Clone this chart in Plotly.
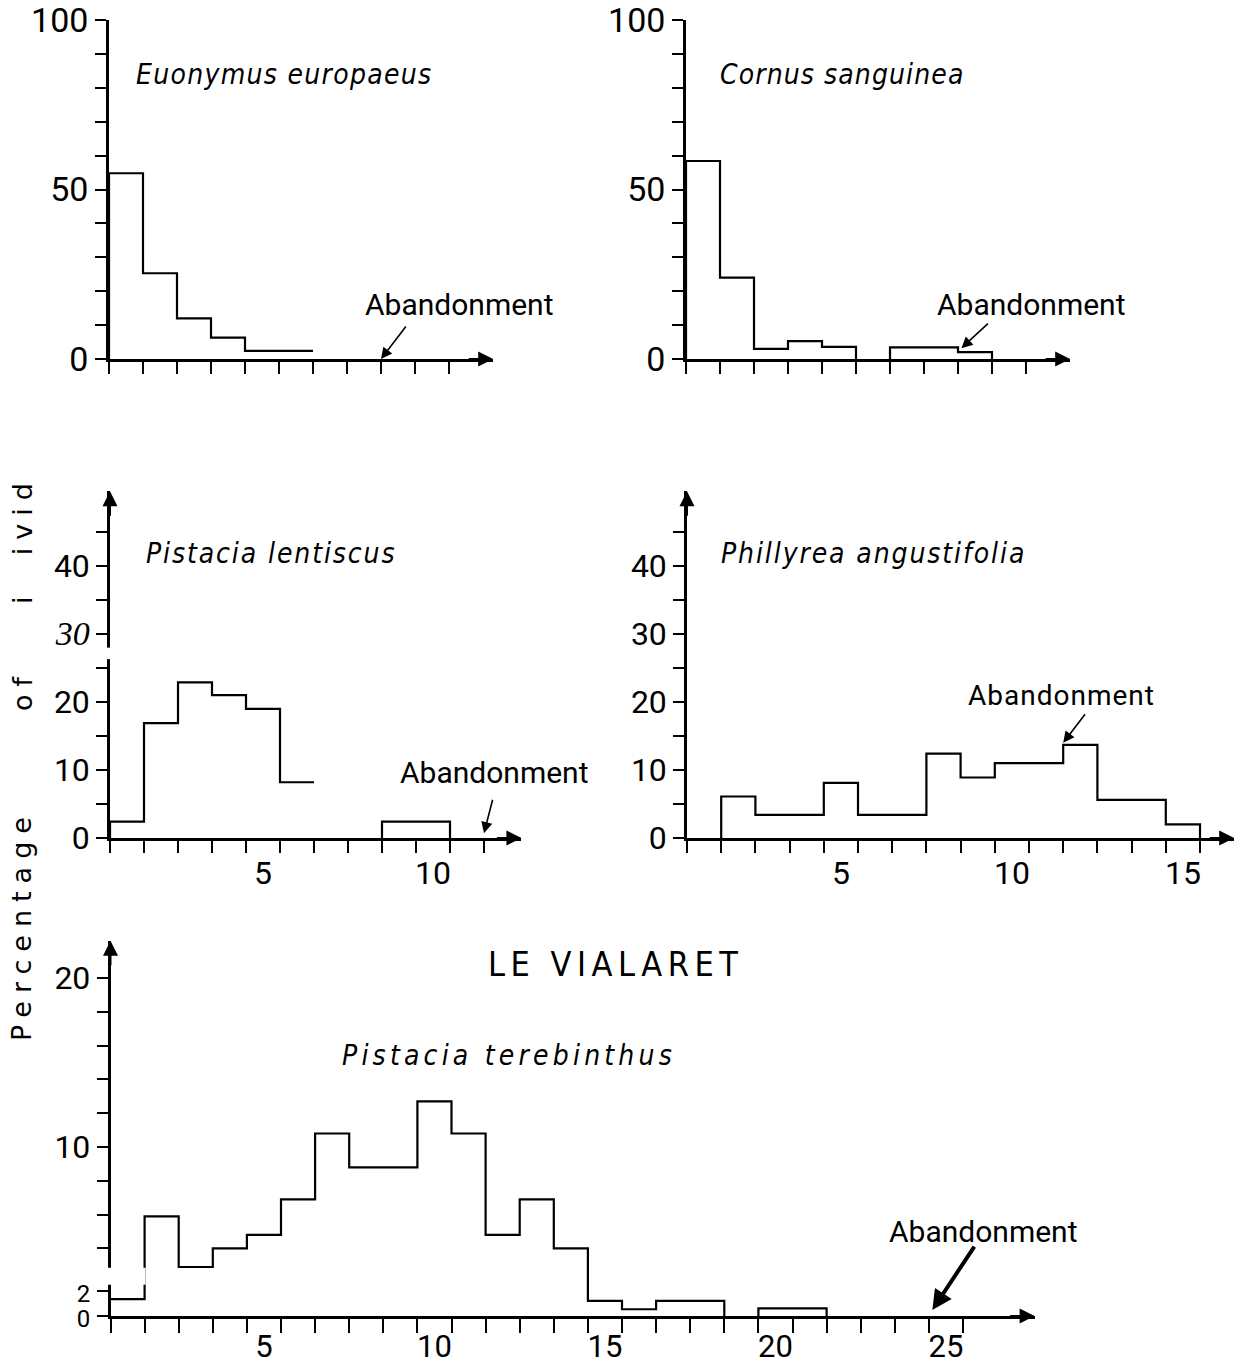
import plotly.graph_objects as go

W, H = 1240, 1364

# ---------------- data (percent of individuals per age class) ----------------
euo_edges = [0, 1, 2, 3, 4, 5, 6]
euo_vals = [54.8, 25.3, 12.0, 6.3, 2.4, 2.4]

cor_edges_a = [0, 1, 2, 3, 4, 5]
cor_vals_a = [58.4, 24.0, 3.0, 5.3, 3.6]
cor_edges_b = [6, 7, 8, 9]
cor_vals_b = [3.4, 3.4, 2.0]

len_edges_a = [0, 1, 2, 3, 4, 5, 6]
len_vals_a = [2.4, 16.9, 22.9, 21.0, 19.0, 8.2]
len_edges_b = [8, 9, 10]
len_vals_b = [2.4, 2.4]

phi_edges = [1, 2, 3, 4, 5, 6, 7, 8, 9, 10, 11, 12, 13, 14, 15]
phi_vals = [6.1, 3.4, 3.4, 8.1, 3.4, 3.4, 12.4, 8.9, 11.0, 11.0, 13.7, 5.6, 5.6, 2.0]

ter_edges_a = list(range(0, 19))
ter_vals_a = [1.0, 5.9, 2.9, 4.0, 4.8, 6.9, 10.8, 8.8, 8.8, 12.7, 10.8, 4.8, 6.9, 4.0, 0.9, 0.4, 0.9, 0.9]
ter_edges_b = [19, 20, 21]
ter_vals_b = [0.45, 0.45]

# abandonment age class (arrow position) and value at arrow tip
aband = {1: (8, 0), 2: (8.1, 3.2), 3: (11, 0.7), 4: (11, 14.0), 5: (24.1, 0.35)}

titles = {1: "Euonymus europaeus", 2: "Cornus sanguinea", 3: "Pistacia lentiscus",
          4: "Phillyrea angustifolia", 5: "Pistacia terebinthus"}

# ---------------- geometry (pixel layout of the original figure) ----------------
# x0px, px per class, x max, y0px (value 0), px per unit, y max
geo = {
    1: (109, 34.0, 11.3, 359, 3.39, 100),
    2: (686, 34.0, 11.3, 359, 3.39, 100),
    3: (110, 34.0, 12.1, 838, 6.8, 51),
    4: (687, 34.2, 16.0, 838, 6.8, 51),
    5: (110.5, 34.1, 27.1, 1316, 16.9, 22.2),
}

TICKF = "Roboto, Liberation Sans, sans-serif"
TITLEF = "DejaVu Sans Condensed, DejaVu Sans, sans-serif"
LW = 2.2


def step(edges, vals, start_zero=True, end_zero=True):
    xs, ys = [], []
    if start_zero:
        xs.append(edges[0]); ys.append(0)
    for i, v in enumerate(vals):
        xs += [edges[i], edges[i + 1]]
        ys += [v, v]
    if end_zero:
        xs.append(edges[-1]); ys.append(0)
    return xs, ys


def spaced(txt, px):
    return "<span style='letter-spacing:%spx'>%s</span>" % (px, txt)


fig = go.Figure()


def add(panel, edges, vals, s=True, e=True):
    xs, ys = step(edges, vals, s, e)
    sfx = "" if panel == 1 else str(panel)
    fig.add_trace(go.Scatter(x=xs, y=ys, mode="lines", line=dict(color="black", width=LW),
                             xaxis="x" + sfx, yaxis="y" + sfx, showlegend=False, hoverinfo="skip"))


add(1, euo_edges, euo_vals, True, False)
add(2, cor_edges_a, cor_vals_a)
add(2, cor_edges_b, cor_vals_b)
add(3, len_edges_a, len_vals_a, True, False)
add(3, len_edges_b, len_vals_b)
add(4, phi_edges, phi_vals)
add(5, ter_edges_a, ter_vals_a, False, True)
add(5, ter_edges_b, ter_vals_b)

layout = dict(width=W, height=H, margin=dict(l=0, r=0, t=0, b=0, autoexpand=False),
              paper_bgcolor="white", plot_bgcolor="white", showlegend=False)

ann = []
shapes = []

for p, (x0, ux, xmax, y0, uy, ymax) in geo.items():
    sfx = "" if p == 1 else str(p)
    xd = [x0 / W, (x0 + ux * xmax) / W]
    yd = [1 - y0 / H, 1 - (y0 - uy * ymax) / H]
    xa = dict(domain=xd, range=[0, xmax], anchor="y" + sfx, showline=True, linecolor="black",
              linewidth=2.5, showgrid=False, zeroline=False, fixedrange=True, automargin=False,
              ticks="outside", ticklen=12, tickwidth=2, tickcolor="black",
              ticklabeloverflow="allow",
              tickfont=dict(family=TICKF, size=32, color="black"))
    ya = dict(domain=yd, range=[0, ymax], anchor="x" + sfx, showline=True, linecolor="black",
              linewidth=2.5, showgrid=False, zeroline=False, fixedrange=True, automargin=False,
              ticks="outside", ticklen=11, tickwidth=2, tickcolor="black",
              ticklabeloverflow="allow",
              tickfont=dict(family=TICKF, size=32, color="black"))
    if p in (1, 2):
        xa.update(tickvals=list(range(0, 11)), showticklabels=False)
        yv = list(range(0, 101, 10))
        ya.update(tickvals=yv, ticktext=[str(v) if v % 50 == 0 else "" for v in yv],
                  tickfont=dict(family=TICKF, size=34, color="black"))
    elif p in (3, 4):
        nmax = 12 if p == 3 else 16
        labs = [5, 10] if p == 3 else [5, 10, 15]
        xa.update(tickvals=[v - 0.5 for v in labs], ticktext=[str(v) for v in labs],
                  tickcolor="rgba(0,0,0,0)", ticklen=5,
                  minor=dict(tickmode="array", tickvals=list(range(0, nmax)), ticks="outside",
                             ticklen=12, tickwidth=2, tickcolor="black"))
        yv = list(range(0, 46, 5))
        tt = []
        for v in yv:
            if v % 10:
                tt.append("")
            elif p == 3 and v == 30:
                tt.append("<span style='font-family:Liberation Serif;font-size:34px'><i>30</i></span>")
            else:
                tt.append(str(v))
        ya.update(tickvals=yv, ticktext=tt)
    else:
        labs = [5, 10, 15, 20, 25]
        xa.update(tickvals=[v - 0.5 for v in labs], ticktext=[str(v) for v in labs],
                  tickcolor="rgba(0,0,0,0)", ticklen=1,
                  tickfont=dict(family=TICKF, size=31, color="black"),
                  minor=dict(tickmode="array", tickvals=list(range(0, 26)), ticks="outside",
                             ticklen=14, tickwidth=1.6, tickcolor="black"))
        yv = [0, 1.5, 4, 6, 8, 10, 12, 14, 16, 18, 20]
        small = "<span style='font-size:24px'>%s</span>"
        ya.update(tickvals=yv, ticktext=[small % "0", small % "2", "", "", "", "10", "", "", "", "", "20"])
    layout["xaxis" + sfx] = xa
    layout["yaxis" + sfx] = ya

    xr, yr = "x" + sfx, "y" + sfx
    # x-axis arrowhead
    ann.append(dict(x=xmax, y=0, xref=xr, yref=yr, ax=-26, ay=0, text="", showarrow=True,
                    arrowhead=2, arrowsize=1.5, arrowwidth=2, arrowcolor="black", standoff=0))
    # y-axis arrowhead (lower panels)
    if p >= 3:
        ann.append(dict(x=0, y=ymax, xref=xr, yref=yr, ax=0, ay=26, text="", showarrow=True,
                        arrowhead=2, arrowsize=1.5, arrowwidth=2, arrowcolor="black", standoff=0))

# species titles
title_pos = {1: (5.15, 83.8), 2: (4.59, 83.8), 3: (4.76, 41.9), 4: (5.44, 41.9), 5: (11.7, 15.4)}
title_sp = {1: 1.3, 2: 1.1, 3: 1.9, 4: 1.9, 5: 4.2}
for p, (tx, ty) in title_pos.items():
    sfx = "" if p == 1 else str(p)
    ann.append(dict(x=tx, y=ty, xref="x" + sfx, yref="y" + sfx,
                    text="<i>" + spaced(titles[p], title_sp[p]) + "</i>",
                    showarrow=False, xanchor="center", yanchor="middle",
                    font=dict(family=TITLEF, size=28, color="black")))

ann.append(dict(x=14.8, y=20.8, xref="x5", yref="y5", text=spaced("LE VIALARET", 5.5),
                showarrow=False, xanchor="center", yanchor="middle",
                font=dict(family=TITLEF, size=34, color="black")))

# Abandonment labels + arrows
ab_text = {1: (10.32, 16.2), 2: (10.15, 16.2), 3: (11.3, 9.6), 4: (10.96, 21.0), 5: (25.6, 5.0)}
ab_off = {1: (26, -34), 2: (28, -26), 3: (9, -35), 4: (23, -30), 5: (43, -65)}
for p in range(1, 6):
    sfx = "" if p == 1 else str(p)
    tx, ty = ab_text[p]
    label = spaced("Abandonment", 1) if p == 4 else "Abandonment"
    ann.append(dict(x=tx, y=ty, xref="x" + sfx, yref="y" + sfx, text=label,
                    showarrow=False, xanchor="center", yanchor="middle",
                    font=dict(family=TICKF, size=30 if p != 4 else 28, color="black")))
    ax_, ay_ = ab_off[p]
    ann.append(dict(x=aband[p][0], y=aband[p][1], xref="x" + sfx, yref="y" + sfx, text="",
                    showarrow=True, ax=ax_, ay=ay_, arrowhead=2,
                    arrowsize=1.0 if p == 5 else 1.4, arrowwidth=4 if p == 5 else 1.6,
                    arrowcolor="black", standoff=0))

# y-axis title (partially legible in the original)
for txt, ypx, sp in [("Percentage", 925, 8), ("of", 690, 8), ("i  ivid", 540, 8)]:
    ann.append(dict(x=22 / W, y=1 - ypx / H, xref="paper", yref="paper", text=spaced(txt, sp),
                    textangle=-90, showarrow=False, xanchor="center", yanchor="middle",
                    font=dict(family="DejaVu Sans, sans-serif", size=27, color="black")))

# axis breaks
shapes.append(dict(type="rect", xref="paper", yref="y3", x0=(110 - 16) / W, x1=(110 + 4) / W,
                   y0=26.3, y1=28.0, fillcolor="white", line=dict(width=0), layer="above"))
shapes.append(dict(type="rect", xref="paper", yref="y5", x0=(110.5 - 16) / W,
                   x1=(110.5 + 34.1 * 1.03) / W, y0=1.85, y1=2.85, fillcolor="white",
                   line=dict(width=0), layer="above"))

layout["annotations"] = ann
layout["shapes"] = shapes
fig.update_layout(**layout)
fig.write_html("out.html")
